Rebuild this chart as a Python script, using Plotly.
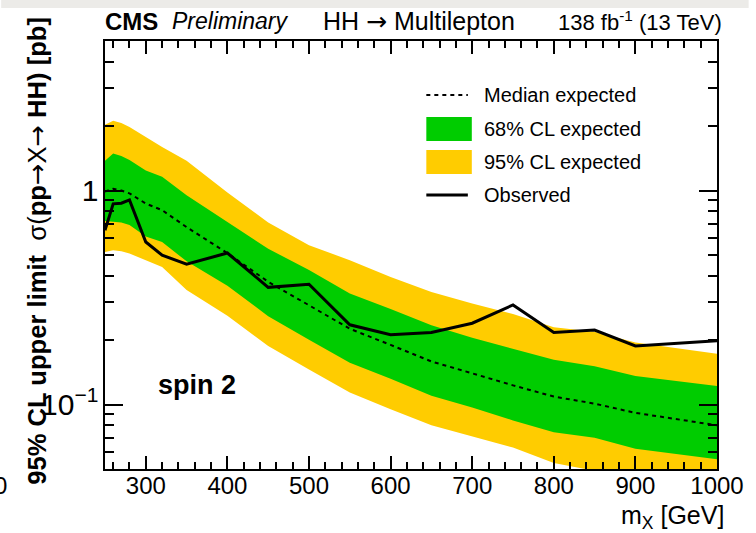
import plotly.graph_objects as go

# Resonant mass points [GeV]
mass = [250, 260, 270, 280, 300, 320, 350, 400, 450, 500, 550, 600, 650, 700, 750, 800, 850, 900, 1000]

# 95% CL upper limits on sigma(pp -> X -> HH) [pb], spin 2
observed = [0.652, 0.867, 0.873, 0.905, 0.575, 0.499, 0.453, 0.511, 0.353, 0.365, 0.236, 0.212, 0.217, 0.240, 0.292, 0.217, 0.223, 0.188, 0.199]
median = [0.99, 1.02, 1.00, 0.97, 0.87, 0.81, 0.675, 0.51, 0.375, 0.29, 0.226, 0.19, 0.159, 0.14, 0.123, 0.109, 0.101, 0.0915, 0.080]
band68_up = [1.38, 1.49, 1.45, 1.39, 1.24, 1.16, 0.95, 0.71, 0.535, 0.425, 0.33, 0.28, 0.235, 0.205, 0.183, 0.162, 0.151, 0.136, 0.122]
band68_dn = [0.72, 0.715, 0.71, 0.69, 0.61, 0.575, 0.467, 0.359, 0.259, 0.201, 0.157, 0.132, 0.110, 0.097, 0.0843, 0.0743, 0.070, 0.0622, 0.0555]
band95_up = [2.03, 2.12, 2.07, 1.98, 1.78, 1.60, 1.38, 0.98, 0.71, 0.555, 0.473, 0.395, 0.336, 0.297, 0.265, 0.23, 0.219, 0.195, 0.173]
band95_dn = [0.516, 0.526, 0.52, 0.508, 0.473, 0.44, 0.343, 0.26, 0.188, 0.146, 0.114, 0.095, 0.080, 0.071, 0.063, 0.0534, 0.049, 0.045, 0.040]

legend_labels = ["Median expected", "68% CL expected", "95% CL expected", "Observed"]

GREEN = "#00cc00"
YELLOW = "#ffcc00"
FONT = "Liberation Sans"
ARROW = '<span style="font-family:DejaVu Sans">\u2192</span>'

W, H = 756, 533
ML, MR, MT, MB = 105, 32, 41, 64
PW, PH = W - ML - MR, H - MT - MB


def px(x):
    return (x - ML) / PW


def py(y):
    return (H - MB - y) / PH


fig = go.Figure()

# 95% and 68% expected bands as closed polygons
fig.add_trace(go.Scatter(
    x=mass + mass[::-1], y=band95_up + band95_dn[::-1],
    fill="toself", fillcolor=YELLOW, line=dict(width=0), mode="lines",
    showlegend=False, hoverinfo="skip"))
fig.add_trace(go.Scatter(
    x=mass + mass[::-1], y=band68_up + band68_dn[::-1],
    fill="toself", fillcolor=GREEN, line=dict(width=0), mode="lines",
    showlegend=False, hoverinfo="skip"))
fig.add_trace(go.Scatter(
    x=mass, y=median, mode="lines",
    line=dict(color="black", width=2, dash="4px,4px"), showlegend=False))
fig.add_trace(go.Scatter(
    x=mass, y=observed, mode="lines",
    line=dict(color="black", width=3), showlegend=False))

shapes = []
annotations = []


def note(text, x, y, size, xanchor="left", family=FONT, **kw):
    annotations.append(dict(text=text, xref="paper", yref="paper", x=px(x), y=py(y),
                            xanchor=xanchor, yanchor="middle", showarrow=False,
                            font=dict(family=family, size=size, color="black"), **kw))


# light strip along the top edge of the page
shapes.append(dict(type="rect", xref="paper", yref="paper",
                   x0=px(0), x1=px(W), y0=py(8), y1=py(0),
                   fillcolor="#ecebe8", line=dict(width=0), layer="below"))

# hand-drawn legend
lx0, lx1, tx = 430, 472, 486
rows = [95, 129, 162, 195]
shapes.append(dict(type="line", xref="paper", yref="paper",
                   x0=px(lx0), x1=px(lx1), y0=py(rows[0]), y1=py(rows[0]),
                   line=dict(color="black", width=2, dash="4px,4px")))
shapes.append(dict(type="rect", xref="paper", yref="paper",
                   x0=px(lx0), x1=px(476), y0=py(rows[1] + 12), y1=py(rows[1] - 12),
                   fillcolor=GREEN, line=dict(width=0)))
shapes.append(dict(type="rect", xref="paper", yref="paper",
                   x0=px(lx0), x1=px(476), y0=py(rows[2] + 12), y1=py(rows[2] - 12),
                   fillcolor=YELLOW, line=dict(width=0)))
shapes.append(dict(type="line", xref="paper", yref="paper",
                   x0=px(lx0), x1=px(lx1), y0=py(rows[3]), y1=py(rows[3]),
                   line=dict(color="black", width=3)))
for label, ry in zip(legend_labels, rows):
    note(label, tx, ry, 20)

# header line
note("<b>CMS</b>", 103, 21, 24)
note("<i>Preliminary</i>", 171, 21, 23)
note("HH " + ARROW + " Multilepton", 323, 21, 25)
note("138 fb<sup>-1</sup> (13 TeV)", 731, 21, 22, xanchor="right")

# signal hypothesis label
note("<b>spin 2</b>", 157, 385, 27)

# axis titles
note("<b>95% CL upper limit</b>  \u03c3(<b>pp</b>" + ARROW + "X" + ARROW + " <b>HH) [pb]</b>",
     36, 251, 25.6, xanchor="center", textangle=-90)
note("m<sub>X</sub> [GeV]", 733, 517, 25, xanchor="right")

# edge of the neighbouring panel's tick label
note("0", 8, 485, 24, xanchor="right")

fig.update_layout(
    width=W, height=H,
    margin=dict(l=ML, r=MR, t=MT, b=MB, pad=0),
    paper_bgcolor="white", plot_bgcolor="white",
    showlegend=False,
    font=dict(family=FONT, size=24, color="black"),
    shapes=shapes, annotations=annotations,
    xaxis=dict(
        range=[250, 1000], tickmode="linear", tick0=0, dtick=100,
        ticks="inside", ticklen=13, tickwidth=1.5, tickcolor="black",
        minor=dict(tick0=0, dtick=20, ticks="inside", ticklen=7, tickwidth=1.5, tickcolor="black"),
        showline=True, linecolor="black", linewidth=1.5, mirror="allticks",
        showgrid=False, zeroline=False,
        tickfont=dict(family=FONT, size=24), ticklabelstandoff=-6),
    yaxis=dict(
        type="log", range=[-1.30103, 0.69897],
        tickmode="linear", tick0=0, dtick=1, exponentformat="power",
        ticks="inside", ticklen=18, tickwidth=1.5, tickcolor="black",
        minor=dict(dtick="D1", ticks="inside", ticklen=9, tickwidth=1.5, tickcolor="black"),
        showline=True, linecolor="black", linewidth=1.5, mirror="allticks",
        showgrid=False, zeroline=False,
        tickfont=dict(family=FONT, size=24)),
)

fig.write_html("out.html")
